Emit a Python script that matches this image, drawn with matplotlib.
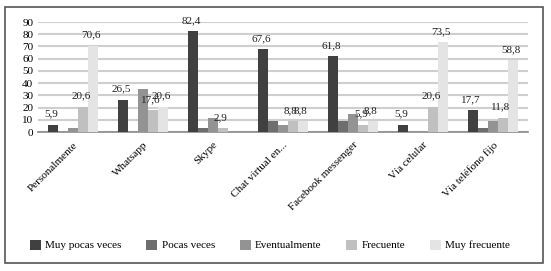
import matplotlib.pyplot as plt
import numpy as np
from matplotlib.patches import Rectangle

categories = ['Personalmente', 'Whatsapp', 'Skype', 'Chat virtual en...',
              'Facebook messenger', 'Vía celular', 'Vía teléfono fijo']
series = ['Muy pocas veces', 'Pocas veces', 'Eventualmente', 'Frecuente', 'Muy frecuente']
muy_pocas = [5.9, 26.5, 82.4, 67.6, 61.8, 5.9, 17.7]
pocas = [0, 0, 2.9, 8.8, 8.8, 0, 2.9]
eventual = [2.9, 35.3, 11.8, 5.9, 14.7, 0, 8.8]
frecuente = [20.6, 17.6, 2.9, 8.8, 5.9, 20.6, 11.8]
muy_frec = [70.6, 20.6, 0, 8.8, 8.8, 73.5, 58.8]
values = [muy_pocas, pocas, eventual, frecuente, muy_frec]
labeled = [True, False, False, True, True]
colors = ['#404040', '#6e6e6e', '#939393', '#c0c0c0', '#e4e4e4']

plt.rcParams['font.family'] = ['Liberation Serif', 'DejaVu Serif']

fig = plt.figure(figsize=(5.51, 2.71), dpi=100)
ax = fig.add_axes([38 / 551, 1 - 132 / 271, 490 / 551, 110 / 271])

x = np.arange(len(categories))
w = 1 / 7
for i, (name, vals) in enumerate(zip(series, values)):
    pos = x + (i - 2) * w
    ax.bar(pos, vals, w, color=colors[i], label=name, zorder=3)
    if labeled[i]:
        for p, v in zip(pos, vals):
            if v > 0:
                ax.text(p - 0.03, v + 5, f'{v:.1f}'.replace('.', ','), ha='center',
                        va='bottom', fontsize=8, color='#222222', zorder=4)

ax.set_xlim(-0.5, len(categories) - 0.5)
ax.set_ylim(0, 90)
ax.set_yticks(range(0, 91, 10))
ax.yaxis.grid(True, color='#cfcfcf', linewidth=1.5, zorder=0)
ax.set_xticks(x)
ax.set_xticklabels(categories, rotation=45, ha='right', rotation_mode='anchor', fontsize=7.5)
ax.tick_params(axis='both', length=0, labelsize=8)
ax.tick_params(axis='x', pad=6)
for s in ['top', 'right', 'left']:
    ax.spines[s].set_visible(False)
ax.spines['bottom'].set_color('#8a8a8a')
ax.spines['bottom'].set_linewidth(1.2)

fig.legend(loc='center', bbox_to_anchor=(0.49, 1 - 245 / 271), ncol=5, frameon=False,
           fontsize=8, handlelength=1.0, handleheight=1.0, columnspacing=2.2,
           handletextpad=0.4)

fig.patches.append(Rectangle((5 / 551, 1 - 263 / 271), 538 / 551, 256 / 271,
                             transform=fig.transFigure, fill=False,
                             edgecolor='#555555', linewidth=1.2))

fig.savefig('out.png', dpi=100)
